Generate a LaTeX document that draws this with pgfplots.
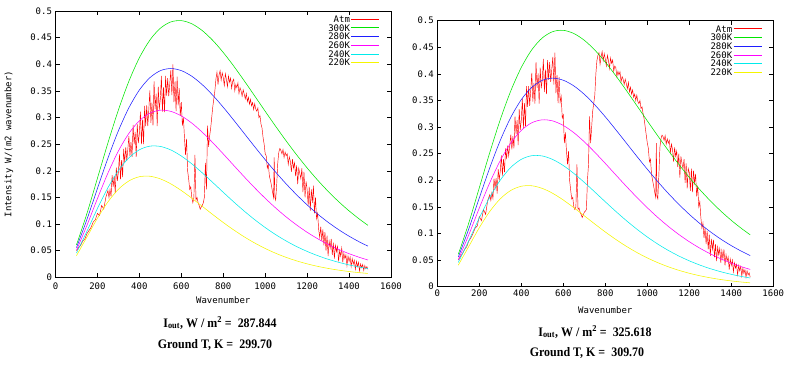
\documentclass[border=0pt]{standalone}
\usepackage{pgfplots}
\pgfplotsset{compat=1.18}
\usepackage{pgfplotstable}
\usepackage{fontspec}
\setmainfont{Liberation Serif}
\setmonofont{DejaVu Sans Mono}

\pgfplotstableread{
nu T300 T280 T260 T240 T220
100 0.06080 0.05570 0.05063 0.04556 0.04053
150 0.11990 0.10873 0.09763 0.08663 0.07575
200 0.18596 0.16680 0.14785 0.12919 0.11092
250 0.25233 0.22372 0.19562 0.16820 0.14158
300 0.31418 0.27514 0.23715 0.20043 0.16526
350 0.36813 0.31828 0.27023 0.22432 0.18097
400 0.41217 0.35164 0.29391 0.23945 0.18885
450 0.44539 0.37476 0.30818 0.24626 0.18973
500 0.46767 0.38794 0.31371 0.24571 0.18479
550 0.47953 0.39200 0.31157 0.23909 0.17542
600 0.48191 0.38807 0.30306 0.22774 0.16294
650 0.47601 0.37750 0.28956 0.21301 0.14855
700 0.46319 0.36165 0.27238 0.19609 0.13325
750 0.44481 0.34185 0.25274 0.17801 0.11784
800 0.42220 0.31930 0.23169 0.15962 0.10291
850 0.39657 0.29510 0.21012 0.14156 0.08887
900 0.36902 0.27015 0.18872 0.12432 0.07599
950 0.34049 0.24518 0.16803 0.10822 0.06439
1000 0.31175 0.22080 0.14841 0.09345 0.05413
1050 0.28344 0.19742 0.13016 0.08011 0.04516
1100 0.25605 0.17538 0.11340 0.06822 0.03743
1150 0.22994 0.15487 0.09820 0.05774 0.03084
1200 0.20538 0.13600 0.08457 0.04860 0.02526
1250 0.18252 0.11884 0.07246 0.04070 0.02059
1300 0.16144 0.10335 0.06179 0.03392 0.01670
1350 0.14219 0.08949 0.05246 0.02814 0.01348
1400 0.12473 0.07718 0.04436 0.02326 0.01084
1450 0.10900 0.06630 0.03737 0.01914 0.00869
1490 0.09761 0.05857 0.03250 0.01634 0.00726
}\planck

\pgfplotstableread{
nu v
100 0.050
110 0.056
120 0.060
130 0.068
140 0.072
150 0.082
160 0.088
170 0.094
180 0.104
190 0.108
200 0.120
210 0.116
220 0.135
230 0.128
240 0.150
250 0.163
255 0.150
260 0.165
265 0.152
270 0.192
275 0.170
280 0.190
285 0.158
290 0.206
295 0.181
300 0.198
305 0.231
310 0.184
315 0.220
320 0.188
325 0.241
330 0.216
335 0.244
340 0.219
345 0.241
350 0.265
355 0.228
360 0.254
365 0.226
370 0.286
375 0.250
380 0.273
385 0.226
390 0.287
395 0.252
400 0.270
405 0.311
410 0.250
415 0.296
420 0.250
425 0.322
430 0.284
435 0.323
440 0.284
445 0.315
450 0.351
455 0.290
460 0.328
465 0.285
470 0.368
475 0.316
480 0.345
485 0.284
490 0.358
495 0.315
500 0.335
505 0.378
510 0.311
515 0.357
520 0.310
525 0.378
530 0.341
535 0.374
540 0.340
545 0.363
550 0.389
555 0.342
560 0.400
565 0.329
570 0.368
575 0.312
580 0.377
585 0.323
590 0.355
595 0.303
600 0.329
605 0.285
610 0.300
615 0.262
620 0.230
625 0.260
630 0.200
635 0.185
640 0.165
645 0.170
650 0.150
655 0.140
660 0.150
665 0.230
670 0.145
675 0.150
680 0.140
685 0.135
690 0.128
695 0.132
700 0.135
705 0.140
710 0.150
715 0.215
720 0.165
725 0.285
730 0.245
735 0.265
740 0.280
745 0.300
750 0.320
760 0.350
765 0.372
770 0.385
775 0.362
780 0.380
785 0.388
790 0.370
795 0.384
800 0.375
805 0.360
810 0.382
815 0.372
820 0.358
825 0.378
830 0.366
835 0.374
840 0.355
845 0.368
850 0.372
855 0.350
860 0.362
865 0.356
870 0.365
875 0.345
880 0.356
885 0.350
890 0.340
895 0.352
900 0.344
905 0.335
910 0.345
915 0.330
920 0.338
925 0.325
930 0.334
935 0.322
940 0.328
945 0.315
950 0.326
955 0.316
960 0.312
965 0.318
970 0.300
975 0.304
980 0.288
985 0.280
990 0.262
995 0.250
1000 0.232
1005 0.228
1010 0.205
1015 0.212
1020 0.190
1025 0.182
1030 0.172
1035 0.160
1040 0.150
1043 0.225
1046 0.150
1050 0.145
1055 0.175
1060 0.215
1065 0.235
1070 0.242
1075 0.238
1080 0.232
1085 0.240
1090 0.225
1095 0.235
1100 0.228
1105 0.232
1110 0.212
1115 0.226
1120 0.218
1125 0.198
1130 0.222
1135 0.205
1140 0.215
1145 0.190
1150 0.210
1155 0.175
1160 0.205
1165 0.195
1170 0.185
1175 0.205
1180 0.160
1185 0.198
1190 0.150
1195 0.180
1200 0.165
1205 0.135
1210 0.170
1215 0.125
1220 0.165
1225 0.140
1230 0.172
1235 0.120
1240 0.150
1245 0.110
1250 0.120
1255 0.090
1260 0.075
1265 0.095
1270 0.068
1275 0.090
1280 0.060
1285 0.085
1290 0.050
1295 0.078
1300 0.040
1305 0.068
1310 0.055
1315 0.072
1320 0.042
1325 0.065
1330 0.035
1335 0.060
1340 0.048
1345 0.058
1350 0.030
1355 0.050
1360 0.040
1365 0.055
1370 0.028
1375 0.045
1380 0.035
1385 0.042
1390 0.022
1395 0.040
1400 0.030
1405 0.038
1410 0.020
1415 0.035
1420 0.025
1425 0.032
1430 0.015
1435 0.030
1440 0.020
1445 0.028
1450 0.012
1455 0.025
1460 0.018
1465 0.024
1470 0.013
1475 0.022
1480 0.016
1485 0.020
1490 0.015
}\atmA

\pgfplotstableread{
nu v
100 0.050
110 0.057
120 0.062
130 0.070
140 0.075
150 0.086
160 0.092
170 0.100
180 0.110
190 0.114
200 0.132
210 0.124
220 0.145
230 0.136
240 0.162
250 0.173
255 0.162
260 0.177
265 0.166
270 0.203
275 0.185
280 0.204
285 0.175
290 0.221
295 0.201
300 0.218
305 0.247
310 0.209
315 0.240
320 0.215
325 0.260
330 0.240
335 0.265
340 0.246
345 0.265
350 0.286
355 0.258
360 0.283
365 0.260
370 0.320
375 0.287
380 0.313
385 0.266
390 0.334
395 0.295
400 0.313
405 0.354
410 0.298
415 0.345
420 0.301
425 0.377
430 0.338
435 0.377
440 0.340
445 0.370
450 0.402
455 0.348
460 0.383
465 0.344
470 0.422
475 0.374
480 0.401
485 0.344
490 0.412
495 0.373
500 0.390
505 0.428
510 0.366
515 0.408
520 0.362
525 0.426
530 0.389
535 0.422
540 0.385
545 0.408
550 0.432
555 0.380
560 0.440
565 0.364
570 0.398
575 0.345
580 0.394
585 0.347
590 0.358
595 0.317
600 0.323
605 0.270
610 0.290
615 0.255
620 0.230
625 0.255
630 0.200
635 0.182
640 0.165
645 0.168
650 0.150
655 0.145
660 0.150
665 0.230
670 0.145
675 0.148
680 0.140
685 0.136
690 0.130
695 0.135
700 0.140
705 0.142
710 0.145
715 0.200
720 0.230
725 0.320
730 0.270
735 0.300
740 0.330
745 0.345
750 0.360
755 0.400
760 0.425
765 0.435
770 0.440
775 0.418
780 0.432
785 0.442
790 0.425
795 0.438
800 0.428
805 0.415
810 0.435
815 0.425
820 0.410
825 0.430
830 0.420
835 0.426
840 0.405
845 0.415
850 0.412
855 0.395
860 0.405
865 0.398
870 0.404
875 0.385
880 0.395
885 0.390
890 0.380
895 0.390
900 0.382
905 0.372
910 0.384
915 0.366
920 0.375
925 0.362
930 0.370
935 0.356
940 0.362
945 0.350
950 0.360
955 0.348
960 0.344
965 0.350
970 0.335
975 0.338
980 0.325
985 0.315
990 0.300
995 0.285
1000 0.270
1005 0.260
1010 0.235
1015 0.240
1020 0.212
1025 0.200
1030 0.190
1035 0.178
1040 0.168
1043 0.270
1046 0.170
1050 0.165
1055 0.210
1060 0.262
1065 0.278
1070 0.285
1075 0.282
1080 0.275
1085 0.284
1090 0.268
1095 0.278
1100 0.270
1105 0.275
1110 0.252
1115 0.268
1120 0.258
1125 0.235
1130 0.262
1135 0.245
1140 0.255
1145 0.225
1150 0.250
1155 0.205
1160 0.245
1165 0.232
1170 0.222
1175 0.240
1180 0.195
1185 0.232
1190 0.185
1195 0.222
1200 0.215
1205 0.180
1210 0.222
1215 0.178
1220 0.218
1225 0.195
1230 0.212
1235 0.170
1240 0.190
1245 0.150
1250 0.160
1255 0.130
1260 0.110
1265 0.120
1270 0.092
1275 0.110
1280 0.080
1285 0.105
1290 0.070
1295 0.098
1300 0.058
1305 0.090
1310 0.070
1315 0.088
1320 0.055
1325 0.080
1330 0.048
1335 0.075
1340 0.060
1345 0.072
1350 0.045
1355 0.068
1360 0.052
1365 0.070
1370 0.040
1375 0.060
1380 0.048
1385 0.056
1390 0.032
1395 0.052
1400 0.040
1405 0.050
1410 0.028
1415 0.045
1420 0.035
1425 0.042
1430 0.022
1435 0.040
1440 0.030
1445 0.038
1450 0.020
1455 0.035
1460 0.025
1465 0.032
1470 0.018
1475 0.030
1480 0.022
1485 0.026
1490 0.018
}\atmB

\definecolor{gpred}{RGB}{255,0,0}
\definecolor{gpgreen}{RGB}{0,230,0}
\definecolor{gpblue}{RGB}{30,30,255}
\definecolor{gpmag}{RGB}{255,0,255}
\definecolor{gpcyan}{RGB}{0,235,235}
\definecolor{gpyellow}{RGB}{245,245,0}

\pgfplotsset{
  gpaxis/.style={
    scale only axis,
    anchor=south west,
    xmin=0, xmax=1600, ymin=0, ymax=0.5,
    xtick={0,200,...,1600},
    ytick={0,0.05,...,0.5},
    tick align=inside,
    major tick length=4pt,
    axis line style={line width=0.6pt},
    every tick/.style={black, line width=0.5pt},
    /pgf/number format/assume math mode=true,
    /pgf/number format/fixed,
    /pgf/number format/precision=2,
    /pgf/number format/1000 sep={},
    tick label style={font=\ttfamily\fontsize{9}{9}\selectfont},
    label style={font=\ttfamily\fontsize{9}{9}\selectfont},
    legend style={draw=none, fill=none, at={(rel axis cs:0.967,0.985)}, anchor=north east,
      font=\ttfamily\fontsize{9}{9}\selectfont, legend cell align=right,
      inner sep=0pt, row sep=0.6pt,
      nodes={inner sep=0.8pt, text height=6.5pt, text depth=0pt}},
    legend plot pos=right,
    every axis plot/.append style={line width=0.55pt},
  },
  lg/.style={legend image code/.code={\draw[#1,line width=1pt] (0pt,0pt) -- (28pt,0pt);}}
}

\begin{document}
\begin{tikzpicture}
\path[use as bounding box] (0pt,0pt) rectangle (800pt,365pt);

\begin{axis}[gpaxis, at={(55.5pt,87.7pt)}, width=335.5pt, height=266.3pt,
  xlabel={Wavenumber}, ylabel={Intensity W/(m2 wavenumber)},
  xlabel style={at={(axis description cs:0.5,-0.086)}, anchor=center},
  ylabel style={at={(axis description cs:-0.139,0.5)}, anchor=center},
  xticklabel style={yshift=-1.5pt}]
\addplot[gpred, line width=0.45pt, lg=gpred] table[x=nu,y=v]{\atmA};
\addlegendentry{Atm}
\addplot[gpgreen, smooth, lg=gpgreen] table[x=nu,y=T300]{\planck};
\addlegendentry{300K}
\addplot[gpblue, smooth, lg=gpblue] table[x=nu,y=T280]{\planck};
\addlegendentry{280K}
\addplot[gpmag, smooth, lg=gpmag] table[x=nu,y=T260]{\planck};
\addlegendentry{260K}
\addplot[gpcyan, smooth, lg=gpcyan] table[x=nu,y=T240]{\planck};
\addlegendentry{240K}
\addplot[gpyellow, smooth, lg=gpyellow] table[x=nu,y=T220]{\planck};
\addlegendentry{220K}
\end{axis}

\begin{axis}[gpaxis, at={(437.3pt,78.3pt)}, width=336pt, height=266pt,
  xlabel={Wavenumber},
  xlabel style={at={(axis description cs:0.5,-0.09)}, anchor=center}]
\addplot[gpred, line width=0.45pt, lg=gpred] table[x=nu,y=v]{\atmB};
\addlegendentry{Atm}
\addplot[gpgreen, smooth, lg=gpgreen] table[x=nu,y=T300]{\planck};
\addlegendentry{300K}
\addplot[gpblue, smooth, lg=gpblue] table[x=nu,y=T280]{\planck};
\addlegendentry{280K}
\addplot[gpmag, smooth, lg=gpmag] table[x=nu,y=T260]{\planck};
\addlegendentry{260K}
\addplot[gpcyan, smooth, lg=gpcyan] table[x=nu,y=T240]{\planck};
\addlegendentry{240K}
\addplot[gpyellow, smooth, lg=gpyellow] table[x=nu,y=T220]{\planck};
\addlegendentry{220K}
\end{axis}

\node[font=\bfseries\fontsize{13}{13}\selectfont, xscale=0.92] at (220pt,42pt) {I\textsubscript{out}, W / m\textsuperscript{2} =\ \ 287.844};
\node[font=\bfseries\fontsize{13}{13}\selectfont, xscale=0.92] at (215pt,20pt) {Ground T, K =\ \ 299.70};
\node[font=\bfseries\fontsize{13}{13}\selectfont, xscale=0.92] at (595pt,33pt) {I\textsubscript{out}, W / m\textsuperscript{2} =\ \ 325.618};
\node[font=\bfseries\fontsize{13}{13}\selectfont, xscale=0.92] at (587pt,12pt) {Ground T, K =\ \ 309.70};
\end{tikzpicture}
\end{document}
